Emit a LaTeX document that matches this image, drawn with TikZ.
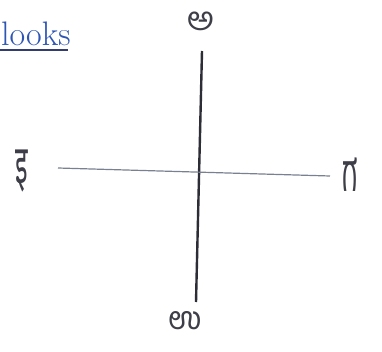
\documentclass[tikz,border=0pt]{standalone}
\usepackage{fontspec}
\newfontfamily\kanf[Script=Kannada]{Hind Mysuru}
\newfontfamily\devf[Script=Devanagari]{Noto Sans}
\definecolor{ink}{RGB}{62,62,72}
\definecolor{axisv}{RGB}{45,45,55}
\definecolor{axish}{RGB}{120,128,145}
\definecolor{pen}{RGB}{45,85,180}
\definecolor{rule}{RGB}{50,60,110}
\tikzset{
  glyph/.style={text=ink, inner sep=0pt, font=\kanf\fontsize{30}{30}\selectfont},
  vaxis/.style={draw=axisv, line width=2.4pt},
  haxis/.style={draw=axish, line width=1.2pt},
}
\begin{document}
\begin{tikzpicture}[x=1pt,y=-1pt]
\useasboundingbox (0,0) rectangle (382,352);
\fill[white] (0,0) rectangle (382,352);
% heading
\node[anchor=base west, inner sep=0pt, text=pen, font=\fontsize{34}{34}\selectfont] (head) at (1,46) {looks};
\coordinate (u1) at (0,50);
\coordinate (u2) at (68,50);
\draw[draw=rule, line width=1.3pt] (u1) -- (u2);
% axes
\coordinate (vt) at (202,51);
\coordinate (vb) at (196,302);
\coordinate (hl) at (58,168);
\coordinate (hr) at (330,176);
\draw[vaxis] (vt) -- (vb);
\draw[haxis] (hl) -- (hr);
% labels
\node[glyph, font=\kanf\fontsize{33}{33}\selectfont] (top) at (201,21) {ಅ};
\node[glyph] (right) at (350,175) {\scalebox{0.95}[1.8]{ಗ}};
\node[glyph, font=\kanf\fontsize{32}{32}\selectfont] (bottom) at (185,321) {ಉ};
\node[glyph, font=\devf\fontsize{30}{30}\selectfont] (left) at (22,171) {\scalebox{0.85}[1.8]{इ}};
\end{tikzpicture}
\end{document}
